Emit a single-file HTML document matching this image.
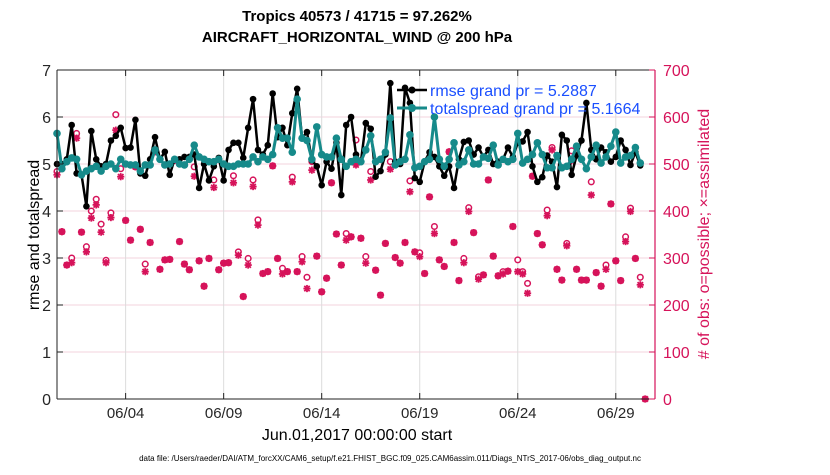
<!DOCTYPE html>
<html><head><meta charset="utf-8">
<style>
body{margin:0;background:#fff;width:830px;height:470px;overflow:hidden;font-family:"Liberation Sans",Arial,sans-serif;}
svg text{font-family:"Liberation Sans",Arial,sans-serif;}
</style></head>
<body>
<svg id="chart" width="830" height="470" viewBox="0 0 830 470" xmlns="http://www.w3.org/2000/svg">
<g id="grid"></g>
<g id="marks"></g>
<g id="axes"></g>
<text x="357" y="21" text-anchor="middle" font-size="15" font-weight="bold">Tropics 40573 / 41715 = 97.262%</text>
<text x="357" y="42" text-anchor="middle" font-size="15" font-weight="bold">AIRCRAFT_HORIZONTAL_WIND @ 200 hPa</text>
<text transform="translate(39,235) rotate(-90)" text-anchor="middle" font-size="16">rmse and totalspread</text>
<text transform="translate(709,234) rotate(-90)" text-anchor="middle" font-size="16" fill="#d6135a"># of obs: o=possible; ×=assimilated</text>
<text x="357" y="440" text-anchor="middle" font-size="16">Jun.01,2017 00:00:00 start</text>
<text x="390" y="461" text-anchor="middle" font-size="8">data file: /Users/raeder/DAI/ATM_forcXX/CAM6_setup/f.e21.FHIST_BGC.f09_025.CAM6assim.011/Diags_NTrS_2017-06/obs_diag_output.nc</text>
<g id="legend">
<line x1="397" y1="90" x2="427" y2="90" stroke="#000" stroke-width="2.5"/>
<circle cx="412" cy="90" r="3.5" fill="#000"/>
<text x="430" y="96" font-size="16" fill="#1a4fff">rmse grand pr = 5.2887</text>
<line x1="397" y1="108" x2="427" y2="108" stroke="#168a8a" stroke-width="3"/>
<circle cx="412" cy="108" r="4" fill="#168a8a"/>
<text x="430" y="114" font-size="16" fill="#1a4fff">totalspread grand pr = 5.1664</text>
</g>
</svg>
<script>
const rmse=[5.0,5.0,5.1,5.83,4.8,4.77,4.1,5.7,5.1,4.95,5.0,5.5,5.6,5.77,5.34,5.35,5.94,4.8,4.75,5.1,5.57,5.1,5.26,4.77,5.1,5.1,5.15,5.15,5.2,4.49,
5.0,4.65,4.95,5.13,4.65,5.3,5.45,5.45,5.13,5.77,6.38,5.3,5.2,5.4,6.5,5.57,5.77,5.4,6.08,6.6,5.55,5.68,5.08,4.95,4.55,5.05,4.9,5.45,4.34,5.83,
6.0,5.2,5.05,5.87,5.75,4.73,4.85,5.2,6.72,5.05,5.0,6.62,6.3,4.7,4.62,5.05,5.25,5.15,4.95,4.75,4.95,4.49,5.1,5.47,5.5,5.2,5.35,5.15,5.3,5.0,
5.05,5.1,5.35,5.15,5.45,5.48,5.68,4.95,4.62,4.72,5.18,5.05,4.51,5.62,5.5,4.77,5.18,5.5,6.3,5.3,5.1,5.35,5.25,5.05,5.15,5.5,5.3,4.98,5.25,4.97];
const spread=[5.65,4.9,5.05,5.13,5.1,4.77,4.85,4.9,4.95,4.85,4.95,5.0,4.9,5.1,5.0,4.98,4.98,4.85,4.98,4.98,5.3,5.1,4.98,5.0,5.1,5.0,4.98,5.1,5.4,5.15,
5.1,5.05,5.05,5.1,5.0,4.95,4.95,5.0,5.0,5.0,5.15,5.05,5.15,5.1,5.2,5.77,5.55,5.55,5.25,6.38,5.55,5.5,5.1,5.79,5.2,5.15,5.15,5.55,5.1,4.95,
5.05,5.1,5.05,5.3,5.6,5.05,5.1,5.25,5.98,4.98,5.05,5.1,5.62,4.92,4.95,5.05,5.1,6.0,5.1,4.95,5.1,5.45,4.98,5.05,5.3,5.0,5.0,5.15,5.12,5.4,
4.98,5.1,5.05,5.1,5.65,5.02,5.1,5.2,5.45,5.2,4.92,4.92,5.18,4.92,4.95,5.1,5.38,5.1,4.9,5.15,5.4,5.02,5.15,5.38,5.68,5.02,5.15,5.18,5.35,5.02];
const possible=[484,356,285,300,565,355,324,400,425,372,295,396,605,490,380,338,494,361,287,333,526,276,296,297,508,335,287,275,494,294,
240,299,466,275,289,290,475,313,218,299,466,381,267,271,496,299,278,271,472,271,303,259,505,304,228,257,460,351,285,352,
345,551,342,303,484,274,221,331,505,301,289,333,464,313,311,267,430,367,296,282,526,333,252,299,407,354,260,264,466,304,
262,271,272,367,296,271,246,474,352,328,402,535,276,253,331,528,276,253,253,462,269,240,285,415,294,252,345,406,299,259,0];
const assimilated=[477,356,285,290,555,355,313,385,413,355,290,386,572,473,380,338,494,361,271,333,526,276,296,297,508,335,287,275,474,294,
240,299,450,275,289,290,460,306,218,285,452,370,267,271,496,299,266,271,462,271,292,235,487,304,228,257,460,351,285,338,
345,498,342,289,466,274,221,331,489,301,289,333,441,313,303,267,430,352,296,282,526,333,252,290,399,354,255,264,466,304,
262,266,272,367,271,266,225,474,352,328,390,530,276,253,326,507,276,253,253,434,269,240,276,415,294,252,335,399,299,243,0];
const xTickLabels=["06/04","06/09","06/14","06/19","06/24","06/29"];
const xTickDays=[3,8,13,18,23,28];
const yLeftTicks=[0,1,2,3,4,5,6,7];
const yRightTicks=[0,100,200,300,400,500,600,700];

const L=57,R=655,T=70,B=399;
const dayMin=-0.5,dayMax=30.0;
function xs(d){return L+(d-dayMin)/(dayMax-dayMin)*(R-L);}
function yl(v){return B-v/7*(B-T);}
function yr(v){return B-v/700*(B-T);}
function dayOf(i){return dayMin+i*0.25;}
const NS="http://www.w3.org/2000/svg";
function mk(tag,attrs,parent){const e=document.createElementNS(NS,tag);for(const k in attrs)e.setAttribute(k,attrs[k]);parent.appendChild(e);return e;}
const grid=document.getElementById('grid'),marks=document.getElementById('marks'),axes=document.getElementById('axes');
const PINK="#d6135a",TEAL="#168a8a";

yRightTicks.forEach(v=>{const g=mk('line',{x1:L,x2:R,y1:yr(v),y2:yr(v),stroke:"#f3d3de","stroke-width":1},grid);

});
xTickDays.forEach(d=>{const g=mk('line',{x1:xs(d),x2:xs(d),y1:T,y2:B,stroke:"#dcdcdc","stroke-width":1},grid);

});

function star(cx,cy,parent){const s=3.6;const g=mk('g',{stroke:PINK,"stroke-width":1.8},parent);
mk('line',{x1:cx-s,x2:cx+s,y1:cy,y2:cy},g);mk('line',{x1:cx,x2:cx,y1:cy-s,y2:cy+s},g);
mk('line',{x1:cx-s*0.75,x2:cx+s*0.75,y1:cy-s*0.75,y2:cy+s*0.75},g);mk('line',{x1:cx-s*0.75,x2:cx+s*0.75,y1:cy+s*0.75,y2:cy-s*0.75},g);return g;}
possible.forEach((v,i)=>{const c=mk('circle',{cx:xs(dayOf(i)),cy:yr(v),r:2.8,fill:"#fff",stroke:PINK,"stroke-width":1.5},marks);

});
assimilated.forEach((v,i)=>{const g=star(xs(dayOf(i)),yr(v),marks);

});

function series(arr,color,w,r,name){
 const pts=arr.map((v,i)=>xs(dayOf(i))+","+yl(v)).join(" ");
 const pl=mk('polyline',{points:pts,fill:"none",stroke:color,"stroke-width":w,"stroke-linejoin":"round"},marks);
 
 
 arr.forEach((v,i)=>{const c=mk('circle',{cx:xs(dayOf(i)),cy:yl(v),r:r,fill:color},marks);
 
 });
}
series(rmse,"#000",2.5,3.3,"rmse");
series(spread,TEAL,3,3.8,"totalspread");

let e=mk('line',{x1:L,x2:R,y1:T,y2:T,stroke:"#222","stroke-width":1},axes);


e=mk('line',{x1:L,x2:R,y1:B,y2:B,stroke:"#222","stroke-width":1},axes);


e=mk('line',{x1:L,x2:L,y1:T,y2:B,stroke:"#222","stroke-width":1},axes);


e=mk('line',{x1:R,x2:R,y1:T,y2:B,stroke:PINK,"stroke-width":1.2},axes);



xTickDays.forEach((d,k)=>{mk('line',{x1:xs(d),x2:xs(d),y1:B,y2:B-6,stroke:"#222"},axes);mk('line',{x1:xs(d),x2:xs(d),y1:T,y2:T+6,stroke:"#222"},axes);
 const t=mk('text',{x:xs(d),y:B+19,"text-anchor":"middle","font-size":"15",fill:"#262626"},axes);t.textContent=xTickLabels[k];
 
 });
yLeftTicks.forEach(v=>{mk('line',{x1:L,x2:L+6,y1:yl(v),y2:yl(v),stroke:"#222"},axes);
 const t=mk('text',{x:L-6,y:yl(v)+6,"text-anchor":"end","font-size":"16",fill:"#262626"},axes);t.textContent=v;
 
 });
yRightTicks.forEach(v=>{mk('line',{x1:R,x2:R-6,y1:yr(v),y2:yr(v),stroke:PINK},axes);
 const t=mk('text',{x:R+8,y:yr(v)+6,"text-anchor":"start","font-size":"16",fill:PINK},axes);t.textContent=v;
 
 });
</script>
</body></html>
